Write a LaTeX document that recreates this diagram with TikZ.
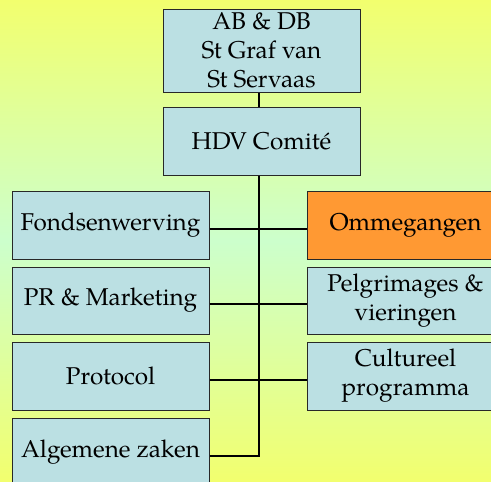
\documentclass[tikz,border=0pt]{standalone}
\usepackage{fontspec}
\setmainfont{TeX Gyre Pagella}
\definecolor{bgy}{RGB}{242,255,110}
\definecolor{bgg}{RGB}{204,255,204}
\definecolor{boxc}{RGB}{187,224,227}
\definecolor{orangec}{RGB}{255,153,51}
\definecolor{edgec}{RGB}{40,40,40}
\begin{document}
\begin{tikzpicture}[x=1pt,y=-1pt,
  box/.style={draw=edgec,line width=1pt,fill=boxc,minimum width=197pt,inner sep=0pt,align=center,font=\fontsize{24.3}{29}\selectfont},
  link/.style={line width=2.8pt,black}]
\useasboundingbox (0,0) rectangle (491,482);
\shade[top color=bgy,bottom color=bgy,middle color=bgg] (0,0) rectangle (491,482);
\node[box,minimum height=83pt] (ab) at (261.5,50.5) {AB \& DB\\St Graf van\\St Servaas};
\node[box,minimum height=68pt] (hdv) at (261.5,141) {HDV Comité};
\node[box,minimum height=68pt] (fonds) at (110.5,225) {Fondsenwerving};
\node[box,minimum height=67pt] (pr) at (110.5,300.5) {PR \& Marketing};
\node[box,minimum height=68pt] (prot) at (110.5,376) {Protocol};
\node[box,minimum height=68pt] (alg) at (110.5,452) {Algemene zaken};
\node[box,fill=orangec,minimum height=68pt] (omm) at (405.5,225) {Ommegangen};
\node[box,minimum height=67pt] (pelg) at (405.5,300.5) {Pelgrimages \&\\vieringen};
\node[box,minimum height=68pt] (cult) at (405.5,376) {Cultureel\\programma};
\coordinate (bend) at ([xshift=-2.5pt,yshift=-4pt]hdv.south |- alg.east);
\draw[link] ([xshift=-2.5pt]ab.south) -- ([xshift=-2.5pt]hdv.north);
\draw[link] ([xshift=-2.5pt]hdv.south) -- (bend) -- ([yshift=-4pt]alg.east);
\draw[link] ([yshift=-4pt]fonds.east) -- ([yshift=-4pt]omm.west);
\draw[link] ([yshift=-3.5pt]pr.east) -- ([yshift=-3.5pt]pelg.west);
\draw[link] ([yshift=-4pt]prot.east) -- ([yshift=-4pt]cult.west);
\end{tikzpicture}
\end{document}
